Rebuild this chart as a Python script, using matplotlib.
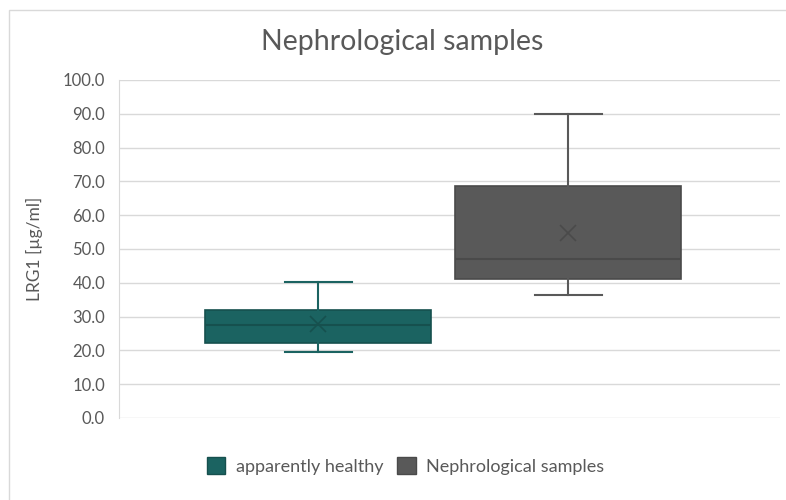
import matplotlib.pyplot as plt
from matplotlib.patches import Patch, Rectangle

# 数据
groups = ["apparently healthy", "Nephrological samples"]
whisker_low = [19.5, 36.4]
q1 = [22.2, 41.1]
medians = [27.5, 47.0]
q3 = [32.0, 68.6]
whisker_high = [40.2, 90.0]
means = [27.8, 54.7]

fill_colors = ["#1b6361", "#595959"]
edge_colors = ["#16504e", "#4a4a4a"]
text_color = "#595959"

plt.rcParams["font.family"] = ["Lato", "DejaVu Sans"]

fig = plt.figure(figsize=(7.86, 5.0), dpi=100)
ax = fig.add_axes([119 / 786, 1 - 418 / 500, 661 / 786, 338 / 500])

stats = []
for i, name in enumerate(groups):
    stats.append({
        "label": name,
        "whislo": whisker_low[i],
        "q1": q1[i],
        "med": medians[i],
        "q3": q3[i],
        "whishi": whisker_high[i],
        "mean": means[i],
        "fliers": [],
    })

positions = [1, 2]
for i, st in enumerate(stats):
    ax.bxp([st], positions=[positions[i]], widths=0.904, capwidths=0.268,
           showmeans=True, patch_artist=True, manage_ticks=False,
           boxprops=dict(facecolor=fill_colors[i], edgecolor=edge_colors[i], linewidth=1.2),
           medianprops=dict(color=edge_colors[i], linewidth=1.5),
           whiskerprops=dict(color=fill_colors[i], linewidth=1.5),
           capprops=dict(color=fill_colors[i], linewidth=1.5),
           meanprops=dict(marker="x", markeredgecolor=edge_colors[i], markersize=11,
                          markeredgewidth=1.2))

ax.set_xlim(0.204, 2.848)
ax.set_ylim(0, 100)
ax.set_yticks(range(0, 101, 10))
ax.set_yticklabels([f"{v:.1f}" for v in range(0, 101, 10)])
ax.set_xticks([])
ax.yaxis.grid(True, color="#d9d9d9", linewidth=1)
ax.set_axisbelow(True)
for side in ["top", "right", "bottom"]:
    ax.spines[side].set_visible(False)
ax.spines["left"].set_color("#d9d9d9")
ax.tick_params(axis="y", length=0, labelsize=12, labelcolor=text_color, pad=10)
ax.set_ylabel("LRG1 [µg/ml]", fontsize=12.5, color=text_color, labelpad=14)

fig.text(0.512, 1 - 42 / 500, "Nephrological samples", ha="center", va="center",
         fontsize=20.5, color=text_color)

handles = [Patch(facecolor=fill_colors[i], edgecolor=edge_colors[i], label=groups[i])
           for i in range(len(groups))]
fig.legend(handles=handles, loc="center", bbox_to_anchor=(0.516, 1 - 466 / 500), ncol=2,
           frameon=False, fontsize=13, labelcolor=text_color, handlelength=1.0,
           handleheight=1.0, handletextpad=0.6, columnspacing=0.8)

# 外框（右侧和底部超出画面）
fig.patches.append(Rectangle((9 / 786, -0.1), 1.0, 1.1 - 10 / 500, transform=fig.transFigure,
                             fill=False, edgecolor="#d9d9d9", linewidth=1))

fig.savefig("out.png", dpi=100)
